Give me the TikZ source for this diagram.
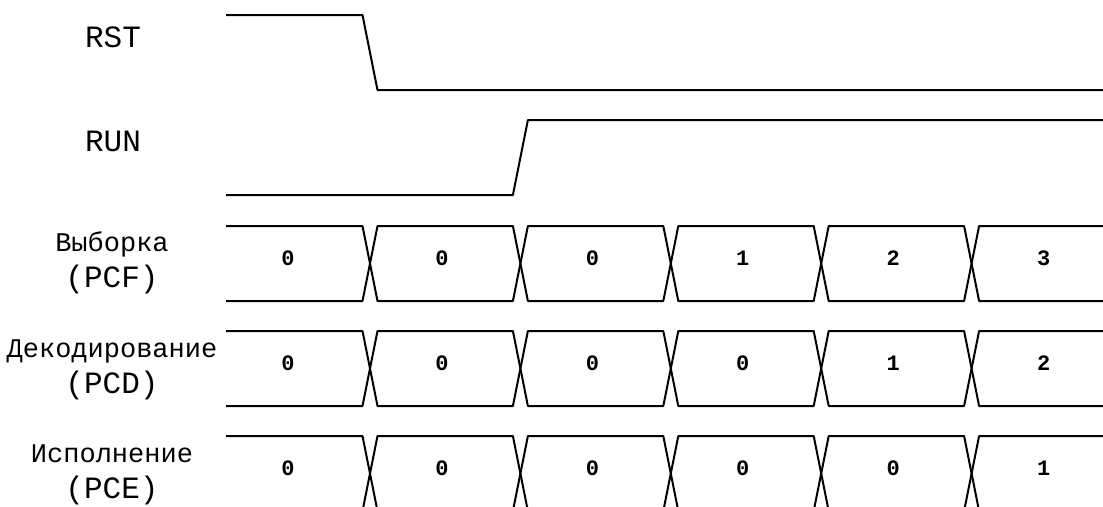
\documentclass[tikz,border=0pt]{standalone}
\usepackage{fontspec}
\setmonofont{Liberation Mono}
\usepackage{tikz}
\newcommand\cyrtext[1]{{\fontsize{27}{36}\selectfont #1}}

\begin{document}
\begin{tikzpicture}[x=1pt,y=-1pt,font=\ttfamily,line join=round]
  \tikzset{
    sig/.style={line width=2pt,black},
    lbl/.style={align=center,inner sep=0pt,font=\ttfamily\fontsize{31}{36}\selectfont},
    val/.style={inner sep=0pt,font=\ttfamily\bfseries\fontsize{22}{24}\selectfont}
  }
  \useasboundingbox (0,0) rectangle (1103,506);
  \clip (0,0) rectangle (1103,506);

  % control lines
  \node[lbl] (rst) at (113,37) {RST};
  \draw[sig] (226,15) -- (362.5,15) -- (377.5,90) -- (1103,90);
  \node[lbl] (run) at (113,141) {RUN};
  \draw[sig] (226,195) -- (512.9,195) -- (527.9,120) -- (1103,120);

  % pipeline stages
  \node[lbl] (pcf) at (112,263) {\cyrtext{Выборка}\\(PCF)};
  \node[lbl] (pcd) at (112,370) {\cyrtext{Декодирование}\\(PCD)};
  \node[lbl] (pce) at (112,475) {\cyrtext{Исполнение}\\(PCE)};

  \foreach \r/\ym/\vals in {f/263.5/{0,0,0,1,2,3},d/368.5/{0,0,0,0,1,2},e/473.5/{0,0,0,0,0,1}}{
    \draw[sig] (226,\ym-37.5) -- (362.5,\ym-37.5) -- (370,\ym) -- (362.5,\ym+37.5) -- (226,\ym+37.5);
    \foreach \c in {370,520.4,670.8,821.2}
      \draw[sig] (\c,\ym) -- (\c+7.5,\ym-37.5) -- (\c+142.9,\ym-37.5) -- (\c+150.4,\ym)
        -- (\c+142.9,\ym+37.5) -- (\c+7.5,\ym+37.5) -- cycle;
    \draw[sig] (1103,\ym-37.5) -- (979.1,\ym-37.5) -- (971.6,\ym) -- (979.1,\ym+37.5) -- (1103,\ym+37.5);
    \foreach \v [count=\k] in \vals {
      \pgfmathsetmacro\vx{\k==1 ? 288 : 442+150.4*(\k-2)}
      \node[val] (\r\k) at (\vx,\ym-5) {\v};
    }
  }
\end{tikzpicture}
\end{document}
